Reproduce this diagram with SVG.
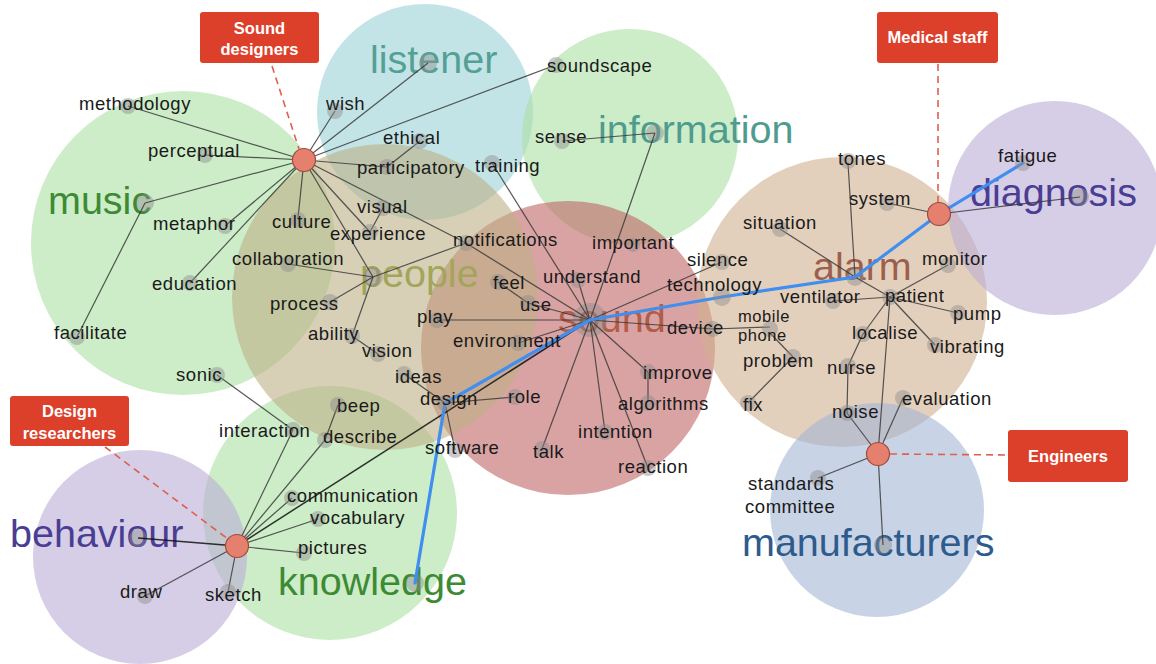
<svg xmlns="http://www.w3.org/2000/svg" width="1156" height="664" viewBox="0 0 1156 664">
<style>
.blob{fill-opacity:0.6;stroke:none}
.big{font-family:"Liberation Sans",Arial,sans-serif;font-size:39.5px}
.lbl{font-family:"Liberation Sans",Arial,sans-serif;font-size:18.5px;letter-spacing:0.55px;fill:#1a1a1a}
.edge{stroke:#3a3a3a;stroke-width:1.2;stroke-opacity:0.85;fill:none}
.blue{stroke:#3f8ef0;stroke-width:3.2;fill:none;stroke-linecap:round}
.dash{stroke:#e0604f;stroke-width:1.6;stroke-dasharray:7 5;fill:none}
.dot{fill:#8c8c8c;fill-opacity:0.45}
.hub{fill:#e5806e;stroke:#a04a3c;stroke-width:1.2}
.box{fill:#dc3f2a}
.boxt{font-family:"Liberation Sans",Arial,sans-serif;font-size:16.5px;font-weight:bold;fill:#ffffff;text-anchor:middle}
</style>

<g id="regions">
  <circle class="blob" cx="425" cy="112" r="108" fill="#9bd2d5"/>
  <circle class="blob" cx="630" cy="137" r="108" fill="#acdfa3"/>
  <circle class="blob" cx="183" cy="243" r="152" fill="#acdfa3"/>
  <circle class="blob" cx="330" cy="513" r="127" fill="#acdfa3"/>
  <circle class="blob" cx="140" cy="557" r="107" fill="#bbadd5"/>
  <circle class="blob" cx="568" cy="348" r="147" fill="#c06666"/>
  <circle class="blob" cx="842" cy="302" r="145" fill="#d0b18f"/>
  <circle class="blob" cx="1055" cy="208" r="107" fill="#bbadd5"/>
  <circle class="blob" cx="877" cy="510" r="107" fill="#a3b6d5"/>
  <circle class="blob" cx="385" cy="297" r="153" fill="#bcb185"/>
</g>

<g id="category-labels">
  <g id="c-listener"><text class="big" x="370" y="73" fill="#55a095">listener</text><circle class="dot" cx="428" cy="63" r="9"/></g>
  <g id="c-information"><text class="big" x="598" y="143" fill="#4f9c8f">information</text><circle class="dot" cx="655" cy="133" r="9"/></g>
  <g id="c-music"><text class="big" x="48" y="214" fill="#3d8a34">music</text><circle class="dot" cx="145" cy="203" r="9"/></g>
  <g id="c-people"><text class="big" x="360" y="287" fill="#a3a55a">people</text><circle class="dot" cx="373" cy="277" r="10"/></g>
  <g id="c-sound"><text class="big" x="558" y="332" fill="#b25b48">sound</text><circle class="dot" cx="590" cy="320" r="17"/></g>
  <g id="c-alarm"><text class="big" x="813" y="280" fill="#9c5f4e">alarm</text><circle class="dot" cx="855" cy="277" r="9"/></g>
  <g id="c-diagnosis"><text class="big" x="970" y="206" fill="#4a3d94">diagnosis</text><circle class="dot" cx="1080" cy="197" r="9"/></g>
  <g id="c-manufacturers"><text class="big" x="742" y="556" fill="#2d5b8c">manufacturers</text><circle class="dot" cx="883" cy="545" r="9"/></g>
  <g id="c-behaviour"><text class="big" x="10" y="547" fill="#4a3d94">behaviour</text><circle class="dot" cx="138" cy="538" r="9"/></g>
  <g id="c-knowledge"><text class="big" x="278" y="595" fill="#3d8a34">knowledge</text><circle class="dot" cx="415" cy="583" r="9"/></g>
</g>

<g id="connectors">
  <line class="dash" x1="272" y1="66" x2="299" y2="149"/>
  <line class="dash" x1="938" y1="64" x2="938" y2="202"/>
  <line class="dash" x1="890" y1="454" x2="1008" y2="455"/>
  <line class="dash" x1="105" y1="447" x2="228" y2="539"/>
  <line class="edge" x1="304" y1="160" x2="128" y2="106"/>
  <line class="edge" x1="304" y1="160" x2="205" y2="155"/>
  <line class="edge" x1="304" y1="160" x2="335" y2="111"/>
  <line class="edge" x1="304" y1="160" x2="428" y2="63"/>
  <line class="edge" x1="304" y1="160" x2="553" y2="66"/>
  <line class="edge" x1="304" y1="160" x2="387" y2="167"/>
  <line class="edge" x1="304" y1="160" x2="466" y2="243"/>
  <line class="edge" x1="304" y1="160" x2="370" y2="232"/>
  <line class="edge" x1="304" y1="160" x2="373" y2="277"/>
  <line class="edge" x1="304" y1="160" x2="298" y2="218"/>
  <line class="edge" x1="304" y1="160" x2="190" y2="283"/>
  <line class="edge" x1="304" y1="160" x2="225" y2="226"/>
  <line class="edge" x1="304" y1="160" x2="145" y2="203"/>
  <line class="edge" x1="420" y1="141" x2="387" y2="167"/>
  <line class="edge" x1="383" y1="208" x2="370" y2="232"/>
  <line class="edge" x1="145" y1="203" x2="77" y2="337"/>
  <line class="edge" x1="373" y1="277" x2="288" y2="264"/>
  <line class="edge" x1="373" y1="277" x2="330" y2="302"/>
  <line class="edge" x1="373" y1="277" x2="352" y2="336"/>
  <line class="edge" x1="373" y1="277" x2="466" y2="243"/>
  <line class="edge" x1="352" y1="336" x2="378" y2="354"/>
  <line class="edge" x1="562" y1="141" x2="655" y2="133"/>
  <line class="edge" x1="655" y1="133" x2="590" y2="320"/>
  <line class="edge" x1="492" y1="163" x2="590" y2="320"/>
  <line class="edge" x1="466" y1="243" x2="590" y2="320"/>
  <line class="edge" x1="578" y1="280" x2="590" y2="320"/>
  <line class="edge" x1="498" y1="282" x2="528" y2="303"/>
  <line class="edge" x1="528" y1="303" x2="590" y2="320"/>
  <line class="edge" x1="437" y1="320" x2="590" y2="320"/>
  <line class="edge" x1="518" y1="343" x2="590" y2="320"/>
  <line class="edge" x1="722" y1="262" x2="590" y2="320"/>
  <line class="edge" x1="713" y1="329" x2="590" y2="320"/>
  <line class="edge" x1="713" y1="329" x2="770" y2="327"/>
  <line class="edge" x1="770" y1="333" x2="793" y2="357"/>
  <line class="edge" x1="793" y1="357" x2="748" y2="403"/>
  <line class="edge" x1="648" y1="372" x2="590" y2="320"/>
  <line class="edge" x1="648" y1="372" x2="648" y2="401"/>
  <line class="edge" x1="605" y1="432" x2="590" y2="320"/>
  <line class="edge" x1="648" y1="468" x2="590" y2="320"/>
  <line class="edge" x1="542" y1="449" x2="590" y2="320"/>
  <line class="edge" x1="445" y1="403" x2="404" y2="374"/>
  <line class="edge" x1="445" y1="403" x2="515" y2="397"/>
  <line class="edge" x1="445" y1="403" x2="455" y2="450"/>
  <line class="edge" x1="237" y1="546" x2="590" y2="320" style="stroke:#111;stroke-width:1.5"/>
  <line class="edge" x1="217" y1="375" x2="293" y2="430"/>
  <line class="edge" x1="293" y1="430" x2="237" y2="546"/>
  <line class="edge" x1="338" y1="405" x2="325" y2="440"/>
  <line class="edge" x1="325" y1="440" x2="237" y2="546"/>
  <line class="edge" x1="237" y1="546" x2="292" y2="498"/>
  <line class="edge" x1="237" y1="546" x2="318" y2="519"/>
  <line class="edge" x1="237" y1="546" x2="304" y2="553"/>
  <line class="edge" x1="237" y1="546" x2="138" y2="538" style="stroke:#111;stroke-width:1.5"/>
  <line class="edge" x1="237" y1="546" x2="145" y2="596"/>
  <line class="edge" x1="237" y1="546" x2="228" y2="592"/>
  <line class="edge" x1="855" y1="277" x2="848" y2="163"/>
  <line class="edge" x1="855" y1="277" x2="780" y2="229"/>
  <line class="edge" x1="855" y1="277" x2="890" y2="297"/>
  <line class="edge" x1="939" y1="214" x2="887" y2="203"/>
  <line class="edge" x1="939" y1="214" x2="1080" y2="197"/>
  <line class="edge" x1="890" y1="297" x2="948" y2="265"/>
  <line class="edge" x1="890" y1="297" x2="833" y2="301"/>
  <line class="edge" x1="890" y1="297" x2="958" y2="313"/>
  <line class="edge" x1="890" y1="297" x2="935" y2="345"/>
  <line class="edge" x1="890" y1="297" x2="863" y2="334"/>
  <line class="edge" x1="890" y1="297" x2="878" y2="454"/>
  <line class="edge" x1="863" y1="334" x2="848" y2="366"/>
  <line class="edge" x1="848" y1="366" x2="847" y2="413"/>
  <line class="edge" x1="847" y1="413" x2="878" y2="454"/>
  <line class="edge" x1="903" y1="398" x2="878" y2="454"/>
  <line class="edge" x1="818" y1="478" x2="878" y2="454"/>
  <line class="edge" x1="878" y1="454" x2="883" y2="545"/>
  <polyline class="blue" points="590,320 722,297 855,277 939,214 1023,163"/>
  <polyline class="blue" points="590,320 445,403 415,583"/>
</g>

<g id="n-methodology"><circle class="dot" cx="128" cy="106" r="8"/><text class="lbl" x="79" y="110">methodology</text></g>
<g id="n-perceptual"><circle class="dot" cx="205" cy="155" r="8"/><text class="lbl" x="148" y="157">perceptual</text></g>
<g id="n-wish"><circle class="dot" cx="335" cy="111" r="8"/><text class="lbl" x="326" y="110">wish</text></g>
<g id="n-soundscape"><circle class="dot" cx="556" cy="65" r="8"/><text class="lbl" x="547" y="72">soundscape</text></g>
<g id="n-ethical"><circle class="dot" cx="420" cy="141" r="8"/><text class="lbl" x="383" y="144">ethical</text></g>
<g id="n-participatory"><circle class="dot" cx="387" cy="167" r="8"/><text class="lbl" x="357" y="174">participatory</text></g>
<g id="n-sense"><circle class="dot" cx="562" cy="141" r="8"/><text class="lbl" x="535" y="143">sense</text></g>
<g id="n-training"><circle class="dot" cx="492" cy="163" r="8"/><text class="lbl" x="475" y="172">training</text></g>
<g id="n-metaphor"><circle class="dot" cx="225" cy="226" r="8"/><text class="lbl" x="153" y="230">metaphor</text></g>
<g id="n-culture"><circle class="dot" cx="298" cy="220" r="8"/><text class="lbl" x="272" y="228">culture</text></g>
<g id="n-visual"><circle class="dot" cx="383" cy="208" r="8"/><text class="lbl" x="357" y="213">visual</text></g>
<g id="n-experience"><circle class="dot" cx="370" cy="232" r="8"/><text class="lbl" x="330" y="240">experience</text></g>
<g id="n-notifications"><circle class="dot" cx="466" cy="243" r="8"/><text class="lbl" x="453" y="246">notifications</text></g>
<g id="n-collaboration"><circle class="dot" cx="288" cy="264" r="8"/><text class="lbl" x="232" y="265">collaboration</text></g>
<g id="n-education"><circle class="dot" cx="190" cy="283" r="8"/><text class="lbl" x="152" y="290">education</text></g>
<g id="n-facilitate"><circle class="dot" cx="77" cy="337" r="8"/><text class="lbl" x="54" y="339">facilitate</text></g>
<g id="n-process"><circle class="dot" cx="330" cy="302" r="8"/><text class="lbl" x="270" y="310">process</text></g>
<g id="n-ability"><circle class="dot" cx="352" cy="336" r="8"/><text class="lbl" x="308" y="340">ability</text></g>
<g id="n-vision"><circle class="dot" cx="378" cy="354" r="8"/><text class="lbl" x="362" y="357">vision</text></g>
<g id="n-sonic"><circle class="dot" cx="217" cy="375" r="8"/><text class="lbl" x="176" y="381">sonic</text></g>
<g id="n-interaction"><circle class="dot" cx="293" cy="430" r="8"/><text class="lbl" x="219" y="437">interaction</text></g>
<g id="n-beep"><circle class="dot" cx="338" cy="405" r="8"/><text class="lbl" x="337" y="412">beep</text></g>
<g id="n-describe"><circle class="dot" cx="325" cy="440" r="8"/><text class="lbl" x="323" y="443">describe</text></g>
<g id="n-feel"><circle class="dot" cx="498" cy="282" r="8"/><text class="lbl" x="493" y="289">feel</text></g>
<g id="n-use"><circle class="dot" cx="528" cy="303" r="8"/><text class="lbl" x="520" y="311">use</text></g>
<g id="n-understand"><circle class="dot" cx="578" cy="280" r="8"/><text class="lbl" x="543" y="283">understand</text></g>
<g id="n-important"><circle class="dot" cx="633" cy="245" r="7"/><text class="lbl" x="592" y="249">important</text></g>
<g id="n-play"><circle class="dot" cx="437" cy="320" r="8"/><text class="lbl" x="417" y="323">play</text></g>
<g id="n-environment"><circle class="dot" cx="518" cy="343" r="8"/><text class="lbl" x="453" y="347">environment</text></g>
<g id="n-ideas"><circle class="dot" cx="404" cy="374" r="8"/><text class="lbl" x="395" y="383">ideas</text></g>
<g id="n-design"><circle class="dot" cx="445" cy="403" r="8"/><text class="lbl" x="420" y="405">design</text></g>
<g id="n-role"><circle class="dot" cx="515" cy="397" r="8"/><text class="lbl" x="508" y="403">role</text></g>
<g id="n-software"><circle class="dot" cx="455" cy="450" r="8"/><text class="lbl" x="425" y="454">software</text></g>
<g id="n-talk"><circle class="dot" cx="542" cy="449" r="8"/><text class="lbl" x="533" y="458">talk</text></g>
<g id="n-intention"><circle class="dot" cx="605" cy="432" r="8"/><text class="lbl" x="578" y="438">intention</text></g>
<g id="n-reaction"><circle class="dot" cx="648" cy="468" r="8"/><text class="lbl" x="618" y="473">reaction</text></g>
<g id="n-improve"><circle class="dot" cx="648" cy="372" r="8"/><text class="lbl" x="643" y="379">improve</text></g>
<g id="n-algorithms"><circle class="dot" cx="648" cy="403" r="8"/><text class="lbl" x="618" y="410">algorithms</text></g>
<g id="n-silence"><circle class="dot" cx="722" cy="262" r="8"/><text class="lbl" x="687" y="266">silence</text></g>
<g id="n-technology"><circle class="dot" cx="722" cy="297" r="9"/><text class="lbl" x="667" y="291">technology</text></g>
<g id="n-device"><circle class="dot" cx="713" cy="329" r="8"/><text class="lbl" x="667" y="334">device</text></g>
<g id="n-mobile-phone"><circle class="dot" cx="770" cy="329" r="8"/><text class="lbl" x="738" y="322" style="font-size:16.5px"><tspan x="738" y="322">mobile</tspan><tspan x="738" y="341">phone</tspan></text></g>
<g id="n-problem"><circle class="dot" cx="793" cy="357" r="8"/><text class="lbl" x="743" y="367">problem</text></g>
<g id="n-fix"><circle class="dot" cx="748" cy="403" r="8"/><text class="lbl" x="743" y="411">fix</text></g>
<g id="n-situation"><circle class="dot" cx="780" cy="229" r="8"/><text class="lbl" x="743" y="229">situation</text></g>
<g id="n-tones"><circle class="dot" cx="848" cy="161" r="8"/><text class="lbl" x="838" y="165">tones</text></g>
<g id="n-system"><circle class="dot" cx="887" cy="203" r="8"/><text class="lbl" x="849" y="205">system</text></g>
<g id="n-fatigue"><circle class="dot" cx="1023" cy="163" r="8"/><text class="lbl" x="998" y="162">fatigue</text></g>
<g id="n-monitor"><circle class="dot" cx="948" cy="265" r="8"/><text class="lbl" x="922" y="265">monitor</text></g>
<g id="n-patient"><circle class="dot" cx="890" cy="297" r="8"/><text class="lbl" x="885" y="302">patient</text></g>
<g id="n-ventilator"><circle class="dot" cx="833" cy="301" r="8"/><text class="lbl" x="780" y="303">ventilator</text></g>
<g id="n-pump"><circle class="dot" cx="958" cy="313" r="8"/><text class="lbl" x="953" y="320">pump</text></g>
<g id="n-localise"><circle class="dot" cx="863" cy="334" r="8"/><text class="lbl" x="852" y="339">localise</text></g>
<g id="n-vibrating"><circle class="dot" cx="935" cy="345" r="8"/><text class="lbl" x="930" y="353">vibrating</text></g>
<g id="n-nurse"><circle class="dot" cx="848" cy="366" r="8"/><text class="lbl" x="827" y="374">nurse</text></g>
<g id="n-noise"><circle class="dot" cx="847" cy="413" r="8"/><text class="lbl" x="832" y="418">noise</text></g>
<g id="n-evaluation"><circle class="dot" cx="903" cy="398" r="8"/><text class="lbl" x="902" y="405">evaluation</text></g>
<g id="n-standards-committee"><circle class="dot" cx="818" cy="478" r="8"/><text class="lbl" x="748" y="490"><tspan x="748" y="490">standards</tspan><tspan x="745" y="513">committee</tspan></text></g>
<g id="n-communication"><circle class="dot" cx="292" cy="498" r="8"/><text class="lbl" x="287" y="502">communication</text></g>
<g id="n-vocabulary"><circle class="dot" cx="318" cy="519" r="8"/><text class="lbl" x="310" y="524">vocabulary</text></g>
<g id="n-pictures"><circle class="dot" cx="304" cy="553" r="8"/><text class="lbl" x="298" y="554">pictures</text></g>
<g id="n-draw"><circle class="dot" cx="145" cy="596" r="8"/><text class="lbl" x="120" y="598">draw</text></g>
<g id="n-sketch"><circle class="dot" cx="228" cy="592" r="8"/><text class="lbl" x="205" y="601">sketch</text></g>

<g id="hub-sound-designers"><circle class="hub" cx="304" cy="160" r="11.5"/></g>
<g id="hub-medical-staff"><circle class="hub" cx="939" cy="214" r="11.5"/></g>
<g id="hub-engineers"><circle class="hub" cx="878" cy="454" r="11.5"/></g>
<g id="hub-design-researchers"><circle class="hub" cx="237" cy="546" r="11.5"/></g>

<g id="box-sound-designers"><rect class="box" x="200" y="12" width="119" height="51" rx="3"/><text class="boxt" x="259.5" y="34">Sound</text><text class="boxt" x="259.5" y="55">designers</text></g>
<g id="box-medical-staff"><rect class="box" x="877" y="12" width="121" height="51" rx="3"/><text class="boxt" x="937.5" y="43">Medical staff</text></g>
<g id="box-engineers"><rect class="box" x="1008" y="430" width="120" height="52" rx="3"/><text class="boxt" x="1068" y="462">Engineers</text></g>
<g id="box-design-researchers"><rect class="box" x="10" y="396" width="119" height="50" rx="3"/><text class="boxt" x="69.5" y="417">Design</text><text class="boxt" x="69.5" y="439">researchers</text></g>
</svg>
